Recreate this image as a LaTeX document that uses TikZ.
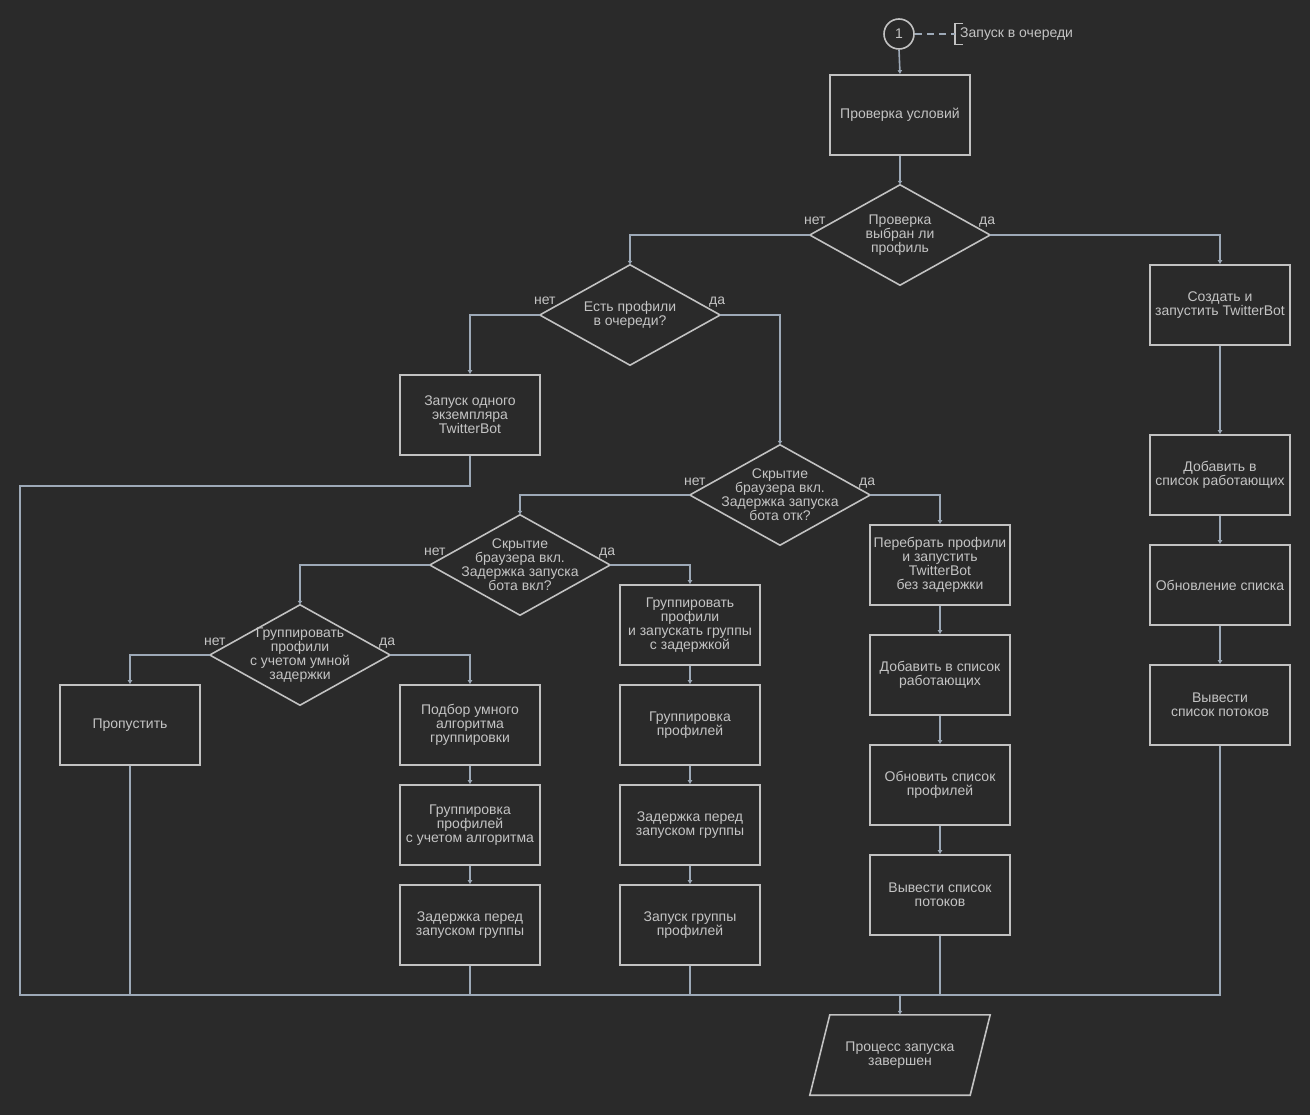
\documentclass[tikz,border=0pt]{standalone}
\usepackage{fontspec}
\setmainfont{Liberation Sans}
\usetikzlibrary{arrows.meta, calc}
\definecolor{bgc}{HTML}{2A2A2A}
\definecolor{shapec}{HTML}{C2C2C2}
\definecolor{linec}{HTML}{9DA9B7}
\definecolor{textc}{HTML}{C4C4C4}

\begin{document}
\begin{tikzpicture}[x=1pt, y=-1pt, font=\fontsize{14}{14}\selectfont,
  box/.style={rectangle, draw=shapec, line width=1.6pt, text=textc, minimum width=140pt, minimum height=80pt, align=center, inner sep=2pt},
  decision/.style={rectangle, text=textc, minimum width=180pt, minimum height=100pt, align=center, inner sep=0pt},
  outline/.style={draw=shapec, line width=1.6pt},
  wire/.style={draw=linec, line width=1.6pt},
  conn/.style={wire, -{Latex[length=4pt, width=5pt]}},
  no/.style={text=textc, inner sep=0pt, anchor=base, yshift=10pt, xshift=5pt},
  yes/.style={text=textc, inner sep=0pt, anchor=base, yshift=10pt, xshift=-3pt}]
\fill[bgc] (0,0) rectangle (1310,1115);
\useasboundingbox (0,0) rectangle (1310,1115);

\node[circle, outline, text=textc, minimum size=30pt, inner sep=0pt] at (899,34) (start) {1};
\node[text=textc, anchor=west, inner xsep=5pt, minimum height=21pt] at (955,34) (note) {Запуск в очереди};
\draw[outline, line width=1.4pt] ([xshift=8pt]note.north west) -- (note.north west) -- (note.south west) -- ([xshift=8pt]note.south west);
\draw[wire, dash pattern=on 7pt off 5pt] (start.east) -- (note.west);

\node[box] at (900,115) (check) {Проверка условий};
\node[decision] at (900,235) (chosen) {Проверка\\выбран ли\\профиль};
\node[decision] at (630,315) (queue) {Есть профили\\в очереди?};
\node[box] at (470,415) (single) {Запуск одного\\экземпляра\\TwitterBot};
\node[decision] at (780,495) (hide) {Скрытие\\браузера вкл.\\Задержка запуска\\бота отк?};
\node[decision] at (520,565) (hideb) {Скрытие\\браузера вкл.\\Задержка запуска\\бота вкл?};
\node[decision] at (300,655) (smart) {Группировать\\профили\\с учетом умной\\задержки};
\node[box] at (130,725) (skip) {Пропустить};
\node[box] at (470,725) (pick) {Подбор умного\\алгоритма\\группировки};
\node[box] at (470,825) (grpalg) {Группировка\\профилей\\с учетом алгоритма};
\node[box] at (470,925) (delayA) {Задержка перед\\запуском группы};
\node[box] at (690,625) (grpdelay) {Группировать\\профили\\и запускать группы\\с задержкой};
\node[box] at (690,725) (grp) {Группировка\\профилей};
\node[box] at (690,825) (delayB) {Задержка перед\\запуском группы};
\node[box] at (690,925) (rungrp) {Запуск группы\\профилей};
\node[box] at (940,565) (iter) {Перебрать профили\\и запустить\\TwitterBot\\без задержки};
\node[box] at (940,675) (addB) {Добавить в список\\работающих};
\node[box] at (940,785) (updB) {Обновить список\\профилей};
\node[box] at (940,895) (outB) {Вывести список\\потоков};
\node[box] at (1220,305) (create) {Создать и\\запустить TwitterBot};
\node[box] at (1220,475) (addR) {Добавить в\\список работающих};
\node[box] at (1220,585) (updR) {Обновление списка};
\node[box] at (1220,705) (outR) {Вывести\\список потоков};
\node[rectangle, text=textc, minimum width=180pt, minimum height=80pt, align=center] at (900,1055) (done) {Процесс запуска\\завершен};

% decision and output shapes
\foreach \d in {chosen, queue, hide, hideb, smart}
  \draw[outline] (\d.north) -- (\d.east) -- (\d.south) -- (\d.west) -- cycle;
\draw[outline] ($(done.north west)+(20,0)$) -- (done.north east) -- ($(done.south east)-(20,0)$) -- (done.south west) -- cycle;

\draw[conn] (start.south) -- (check.north);
\draw[conn] (check.south) -- (chosen.north);
\draw[conn] (chosen.west) node[no]{нет} -| (queue.north);
\draw[conn] (chosen.east) node[yes]{да} -| (create.north);
\draw[conn] (queue.west) node[no]{нет} -| (single.north);
\draw[conn] (queue.east) node[yes]{да} -| (hide.north);
\draw[conn] (hide.west) node[no]{нет} -| (hideb.north);
\draw[conn] (hide.east) node[yes]{да} -| (iter.north);
\draw[conn] (hideb.west) node[no]{нет} -| (smart.north);
\draw[conn] (hideb.east) node[yes]{да} -| (grpdelay.north);
\draw[conn] (smart.west) node[no]{нет} -| (skip.north);
\draw[conn] (smart.east) node[yes]{да} -| (pick.north);
\draw[conn] (pick) -- (grpalg);
\draw[conn] (grpalg) -- (delayA);
\draw[conn] (grpdelay) -- (grp);
\draw[conn] (grp) -- (delayB);
\draw[conn] (delayB) -- (rungrp);
\draw[conn] (iter) -- (addB);
\draw[conn] (addB) -- (updB);
\draw[conn] (updB) -- (outB);
\draw[conn] (create) -- (addR);
\draw[conn] (addR) -- (updR);
\draw[conn] (updR) -- (outR);

% common exit
\coordinate (busL) at (20,995);
\coordinate (bus) at (900,995);
\draw[wire] (single.south) -- ++(0,30) -| (busL) -- (bus);
\foreach \n in {skip, delayA, rungrp, outB, outR}
  \draw[wire] (\n.south) |- (bus);
\draw[conn] (bus) -- (done.north);
\end{tikzpicture}
\end{document}
